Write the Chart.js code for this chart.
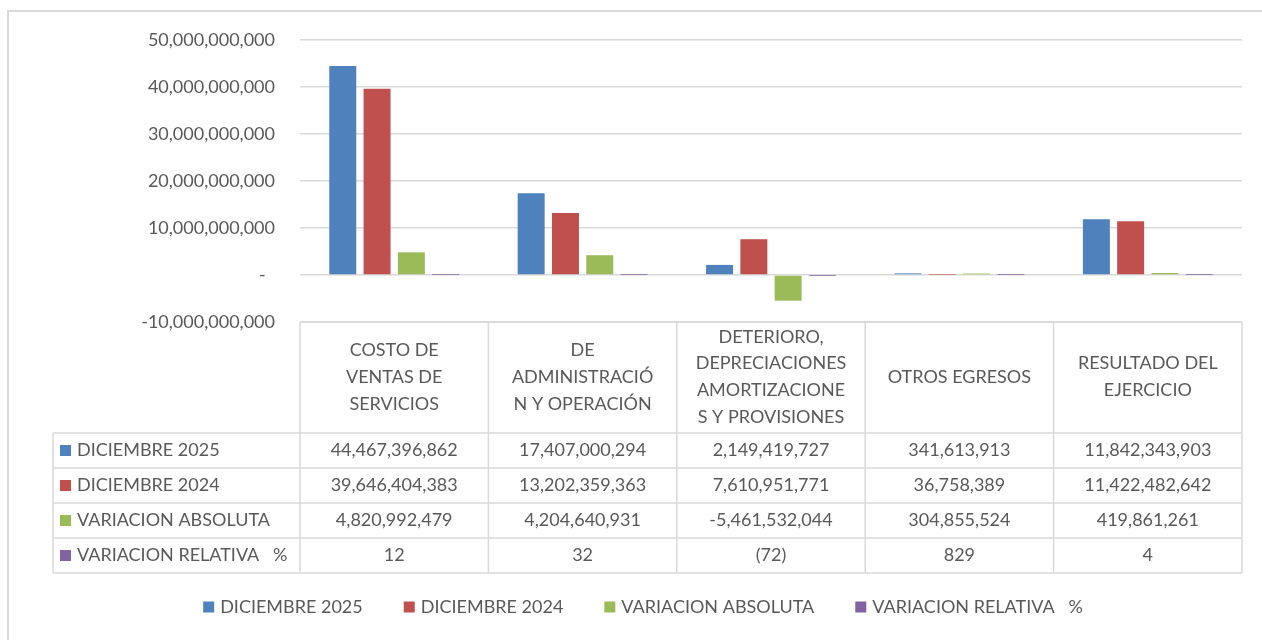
<!DOCTYPE html>
<html>
<head>
<meta charset="utf-8">
<title>Costos y gastos</title>
<script src="https://cdn.jsdelivr.net/npm/chart.js@4.4.1/dist/chart.umd.min.js"></script>
<style>
    html, body { margin: 0; padding: 0; background: #fff; overflow: hidden; }
    #frame { position: absolute; left: 7px; top: 10px; width: 1300px; height: 700px; border: 2px solid #d9d9d9; box-sizing: border-box; }
    #grafico { position: absolute; left: 0; top: 0; }
</style>
</head>
<body>
<div id="frame"></div>
<canvas id="grafico" width="1262" height="640"></canvas>
<script>
// datos del grafico
const categorias = [
    ["COSTO DE", "VENTAS DE", "SERVICIOS"],
    ["DE", "ADMINISTRACIÓ", "N Y OPERACIÓN"],
    ["DETERIORO,", "DEPRECIACIONES", "AMORTIZACIONE", "S Y PROVISIONES"],
    ["OTROS EGRESOS"],
    ["RESULTADO DEL", "EJERCICIO"]
];
const dic2025 = [44467396862, 17407000294, 2149419727, 341613913, 11842343903];
const dic2024 = [39646404383, 13202359363, 7610951771, 36758389, 11422482642];
const varAbsoluta = [4820992479, 4204640931, -5461532044, 304855524, 419861261];
const varRelativa = [12, 32, -72, 829, 4];
const nombres = ["DICIEMBRE 2025", "DICIEMBRE 2024", "VARIACION ABSOLUTA", "VARIACION RELATIVA   %"];
const colores = ["#4f81bd", "#c0504d", "#9bbb59", "#8064a2"];
const ejeMin = -10000000000;
const ejeMax = 50000000000;
const ejePaso = 10000000000;

const fuente = "Lato, 'Open Sans', sans-serif";
const gris = "#595959";
const linea = "#d9d9d9";

function miles(n) {
    let s = Math.abs(Math.round(n)).toString().replace(/\B(?=(\d{3})+(?!\d))/g, ",");
    return n < 0 ? "-" + s : s;
}

function porcentaje(n) {
    return n < 0 ? "(" + Math.abs(n) + ")" : String(n);
}

const series = [dic2025, dic2024, varAbsoluta, varRelativa];

// tabla de datos y leyenda debajo del area del grafico
const tablaPlugin = {
    id: 'tablaDatos',
    afterDraw(chart) {
        const ctx = chart.ctx;
        const area = chart.chartArea;
        const x = chart.scales.x;
        const ancho = (area.right - area.left) / categorias.length;
        const top = area.bottom;
        const altoCab = 111;
        const altoFila = 35;
        const izq = 53;
        const fondo = top + altoCab + altoFila * series.length;

        ctx.save();
        ctx.strokeStyle = linea;
        ctx.lineWidth = 1.5;

        // lineas horizontales
        ctx.beginPath();
        ctx.moveTo(area.left, top);
        ctx.lineTo(area.right, top);
        for (let r = 0; r <= series.length; r++) {
            let y = top + altoCab + altoFila * r;
            ctx.moveTo(izq, y);
            ctx.lineTo(area.right, y);
        }
        // lineas verticales
        ctx.moveTo(izq, top + altoCab);
        ctx.lineTo(izq, fondo);
        for (let c = 0; c <= categorias.length; c++) {
            let xx = area.left + ancho * c;
            ctx.moveTo(xx, top);
            ctx.lineTo(xx, fondo);
        }
        ctx.stroke();

        ctx.fillStyle = gris;
        ctx.font = "18px " + fuente;
        ctx.textAlign = "center";
        ctx.textBaseline = "middle";

        // encabezados
        const centroCab = top + 55;
        const interlinea = 26.8;
        categorias.forEach((lineas, i) => {
            let cx = x.getPixelForValue(i);
            let y0 = centroCab - (lineas.length - 1) * interlinea / 2;
            lineas.forEach((t, k) => ctx.fillText(t, cx, y0 + k * interlinea));
        });

        // filas
        series.forEach((serie, r) => {
            let cy = top + altoCab + altoFila * r + altoFila / 2;
            ctx.fillStyle = colores[r];
            ctx.fillRect(60, cy - 5.5, 11, 11);
            ctx.fillStyle = gris;
            ctx.textAlign = "left";
            ctx.fillText(nombres[r], 77, cy);
            ctx.textAlign = "center";
            serie.forEach((v, i) => {
                let txt = r == 3 ? porcentaje(v) : miles(v);
                ctx.fillText(txt, x.getPixelForValue(i), cy);
            });
        });

        // leyenda
        const sep = 41;
        let total = 0;
        const anchos = nombres.map(n => ctx.measureText(n).width);
        anchos.forEach(a => total += 17 + a);
        total += sep * (nombres.length - 1);
        let lx = 643 - total / 2;
        const ly = 607;
        ctx.textAlign = "left";
        nombres.forEach((n, i) => {
            ctx.fillStyle = colores[i];
            ctx.fillRect(lx, ly - 5.5, 11, 11);
            ctx.fillStyle = gris;
            ctx.fillText(n, lx + 17, ly);
            lx += 17 + anchos[i] + sep;
        });
        ctx.restore();
    }
};

const ctxG = document.getElementById('grafico').getContext('2d');
const grafico = new Chart(ctxG, {
    type: 'bar',
    data: {
        labels: categorias.map(c => c.join(" ")),
        datasets: series.map((s, i) => ({
            label: nombres[i],
            data: s,
            backgroundColor: colores[i],
            borderWidth: 0
        }))
    },
    options: {
        responsive: false,
        devicePixelRatio: 1,
        animation: false,
        datasets: {
            bar: {
                categoryPercentage: 0.728,
                barPercentage: 0.787
            }
        },
        layout: {
            padding: { left: 0, top: 40, right: 20, bottom: 318 }
        },
        plugins: {
            legend: { display: false },
            tooltip: { enabled: false }
        },
        scales: {
            x: {
                display: false
            },
            y: {
                min: ejeMin,
                max: ejeMax,
                afterFit: (s) => { s.width = 300; },
                ticks: {
                    stepSize: ejePaso,
                    padding: 25,
                    color: gris,
                    font: { family: fuente, size: 18 },
                    callback: (v) => v === 0 ? "-  " : miles(v)
                },
                grid: {
                    color: linea,
                    lineWidth: 1.5,
                    drawTicks: false
                },
                border: { display: false }
            }
        }
    },
    plugins: [tablaPlugin]
});
</script>
</body>
</html>
